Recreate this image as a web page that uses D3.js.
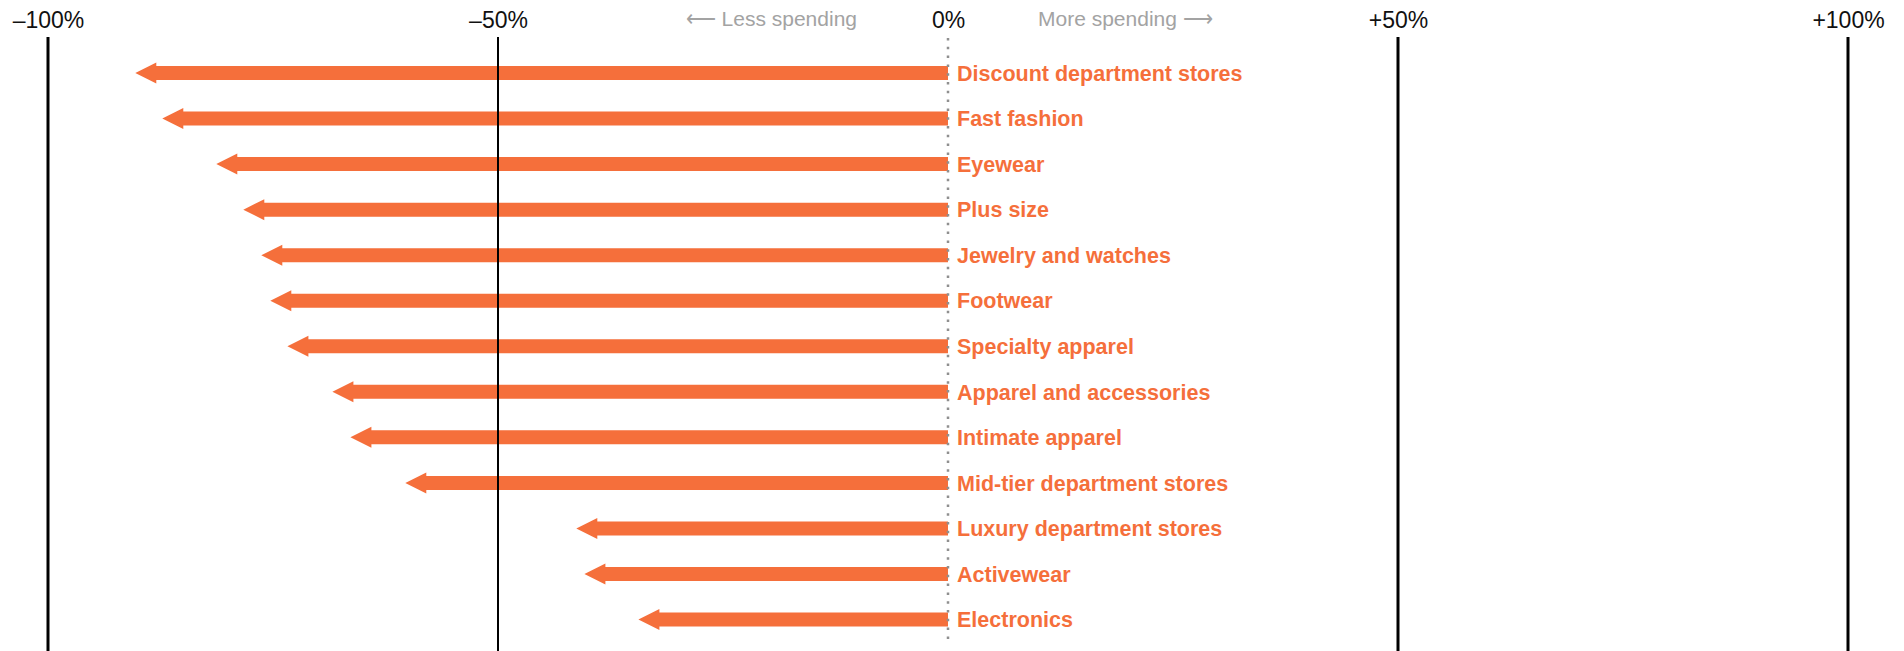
<!DOCTYPE html>
<html>
<head>
<meta charset="utf-8">
<script src="https://cdn.jsdelivr.net/npm/d3@7"></script>
<style>
  html, body { margin: 0; padding: 0; background: #fff; }
  svg { display: block; }
</style>
</head>
<body>
<div id="chart"></div>
<script>
// Change in spending by retail category, in percent
const categories = [
  "Discount department stores",
  "Fast fashion",
  "Eyewear",
  "Plus size",
  "Jewelry and watches",
  "Footwear",
  "Specialty apparel",
  "Apparel and accessories",
  "Intimate apparel",
  "Mid-tier department stores",
  "Luxury department stores",
  "Activewear",
  "Electronics"
];
const changes = [-90.3, -87.3, -81.3, -78.3, -76.3, -75.3, -73.4, -68.4, -66.4, -60.3, -41.3, -40.4, -34.4];
const tickValues = [-100, -50, 0, 50, 100];
const tickLabels = ["\u2013100%", "\u201350%", "0%", "+50%", "+100%"];
const directionLabels = ["\u27F5 Less spending", "More spending \u27F6"];

const width = 1904, height = 651;
const orange = "#f56f3b";

const svg = d3.select("#chart").append("svg")
  .attr("width", width)
  .attr("height", height);

const x = d3.scaleLinear().domain([-100, 100]).range([48, 1848]);
const y = d3.scalePoint().domain(categories).range([73, 619.5]);

const rows = categories.map((c, i) => ({ name: c, value: changes[i] }));

// Arrows: a thick shaft from zero to the value, with a pointed head at the value
const shaftHalf = 7, headHalf = 10.5, headLen = 21;
function arrowPath(d) {
  const x0 = x(0), xt = x(d.value), yc = y(d.name);
  const xb = xt + headLen;
  return `M${xt},${yc}L${xb},${yc - headHalf}L${xb},${yc - shaftHalf}L${x0},${yc - shaftHalf}` +
         `L${x0},${yc + shaftHalf}L${xb},${yc + shaftHalf}L${xb},${yc + headHalf}Z`;
}

svg.append("g").selectAll("path")
  .data(rows)
  .join("path")
  .attr("d", arrowPath)
  .attr("fill", orange);

// Vertical reference lines at the non-zero ticks, drawn over the arrows
const grid = svg.append("g");
grid.selectAll("line")
  .data(tickValues.filter(v => v !== 0))
  .join("line")
  .attr("x1", d => x(d)).attr("x2", d => x(d))
  .attr("y1", 37).attr("y2", height)
  .attr("stroke", "#000")
  .attr("stroke-width", d => d === -50 ? 2 : 3);

// Dotted zero line
svg.append("line")
  .attr("x1", x(0)).attr("x2", x(0))
  .attr("y1", 38).attr("y2", height - 8)
  .attr("stroke", "#8f8f8f")
  .attr("stroke-width", 2.5)
  .attr("stroke-dasharray", "2.5,6.3");

// Tick labels along the top
const axis = d3.axisTop(x)
  .tickValues(tickValues)
  .tickFormat((d, i) => tickLabels[i])
  .tickSize(0)
  .tickPadding(0);

const axisG = svg.append("g")
  .attr("transform", "translate(0,28)")
  .call(axis);
axisG.select(".domain").remove();
axisG.selectAll("text")
  .attr("dy", 0)
  .attr("y", 0)
  .attr("fill", "#111")
  .style("font-family", "'Liberation Sans', Arial, sans-serif")
  .style("font-size", "23px");

// Direction hints around zero
svg.append("text")
  .attr("x", 857).attr("y", 26)
  .attr("text-anchor", "end")
  .attr("fill", "#a3a3a3")
  .style("font-family", "'Liberation Sans', Arial, sans-serif")
  .style("font-size", "21px")
  .text(directionLabels[0]);

svg.append("text")
  .attr("x", 1038).attr("y", 26)
  .attr("text-anchor", "start")
  .attr("fill", "#a3a3a3")
  .style("font-family", "'Liberation Sans', Arial, sans-serif")
  .style("font-size", "21px")
  .text(directionLabels[1]);

// Category labels to the right of zero
svg.append("g").selectAll("text")
  .data(rows)
  .join("text")
  .attr("x", x(0) + 9)
  .attr("y", d => y(d.name))
  .attr("dy", "0.36em")
  .attr("fill", orange)
  .style("font-family", "'Liberation Sans', Arial, sans-serif")
  .style("font-weight", "bold")
  .style("font-size", "21.5px")
  .text(d => d.name);
</script>
</body>
</html>
